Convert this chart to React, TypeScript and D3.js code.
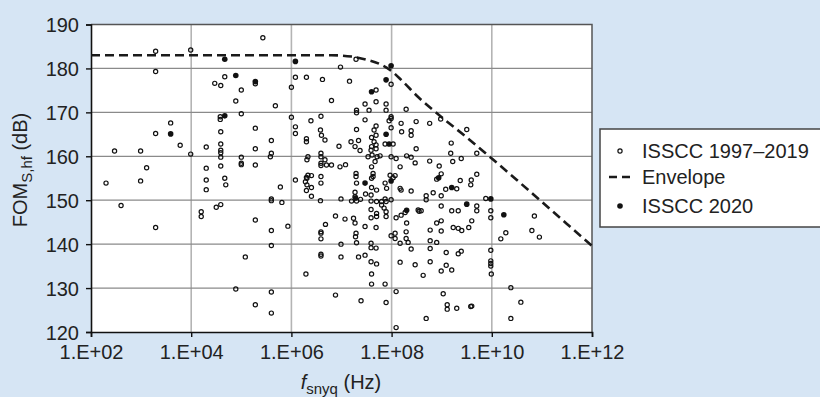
import React, { useEffect, useRef } from "react"
import * as d3 from "d3"

// values: [log10 of f_snyq in Hz, FOM_S,hf in dB]
const isscc1997to2019: [number, number][] = [
  [2.30, 153.9], [2.47, 161.2], [2.60, 148.8], [2.99, 161.2], [2.99, 154.4], [3.11, 157.4],
  [3.29, 183.9], [3.29, 179.3], [3.29, 165.2], [3.29, 143.8], [3.59, 167.6], [3.78, 162.5],
  [3.99, 184.2], [3.99, 160.5], [4.20, 147.4], [4.20, 146.3], [4.30, 162.1], [4.30, 157.3],
  [4.30, 154.6], [4.30, 152.4], [4.47, 176.6], [4.50, 148.4], [4.59, 176.1], [4.67, 178.1],
  [4.58, 169.0], [4.58, 168.4], [4.59, 165.6], [4.59, 162.8], [4.59, 161.4], [4.59, 160.8],
  [4.59, 159.8], [4.59, 157.8], [4.67, 155.0], [4.69, 153.5], [4.59, 149.0], [4.89, 172.6],
  [5.00, 175.1], [5.00, 169.7], [5.00, 159.8], [5.00, 158.4], [5.00, 158.1], [5.08, 137.1],
  [4.89, 129.8], [5.28, 166.4], [5.28, 161.7], [5.28, 158.0], [5.28, 145.5], [5.28, 126.2],
  [5.43, 187.0], [5.60, 163.6], [5.60, 160.7], [5.58, 159.9], [5.60, 150.3], [5.60, 149.9],
  [5.60, 143.1], [5.60, 139.7], [5.60, 129.1], [5.60, 124.3], [5.68, 171.5], [5.78, 153.0],
  [5.81, 149.5], [5.93, 144.1], [5.28, 176.5],
  [6.00, 175.7], [6.08, 178.0], [6.30, 178.0], [6.00, 168.9], [6.08, 166.7], [6.08, 165.2],
  [6.39, 168.1], [6.30, 164.0], [6.30, 163.3], [6.33, 159.9], [6.31, 159.2], [6.08, 154.6],
  [6.33, 155.7], [6.40, 155.6], [6.30, 155.2], [6.31, 155.0], [6.28, 154.2], [6.31, 153.5],
  [6.40, 152.9], [6.30, 152.2], [6.40, 150.9], [6.29, 133.2],
  [6.62, 177.5], [6.80, 172.7], [6.98, 180.3], [7.16, 177.1], [7.29, 182.1], [6.59, 169.1],
  [6.58, 166.0], [6.60, 164.8], [6.67, 163.7], [6.59, 160.7], [6.59, 159.9], [6.59, 158.4],
  [6.59, 157.9], [6.67, 159.2], [6.70, 158.0], [6.80, 158.0], [6.97, 157.6], [7.08, 158.1],
  [6.95, 162.3], [7.19, 163.3], [7.34, 163.6], [7.27, 162.2], [7.37, 161.3], [7.30, 170.5],
  [7.30, 169.9], [7.30, 166.1], [6.59, 155.4], [6.59, 153.9], [6.58, 149.9], [6.59, 142.8],
  [6.59, 142.5], [6.59, 141.2], [6.59, 137.7], [6.59, 137.3], [6.68, 144.5], [6.88, 146.4],
  [6.99, 150.3], [6.99, 140.0], [6.99, 137.1], [6.88, 128.4], [7.07, 145.7], [7.24, 145.9],
  [7.27, 144.8], [7.29, 142.5], [7.28, 141.7], [7.30, 140.3], [7.29, 156.1], [7.29, 155.4],
  [7.30, 153.9], [7.27, 151.8], [7.27, 150.8], [7.20, 149.8], [7.30, 149.8], [7.38, 150.2],
  [7.34, 137.1], [7.39, 127.1],
  [7.47, 171.9], [7.55, 170.5], [7.69, 175.1], [7.69, 172.4], [7.89, 171.9], [7.89, 170.5],
  [7.99, 176.4], [7.99, 169.0], [7.99, 168.6], [7.95, 168.1], [7.47, 168.3], [7.69, 166.9],
  [7.65, 166.0], [7.99, 166.5], [7.60, 164.3], [7.65, 163.3], [7.69, 164.8], [7.60, 162.2],
  [7.69, 162.6], [7.87, 162.8], [8.03, 162.8], [7.59, 161.4], [7.69, 161.7], [7.53, 159.9],
  [7.61, 160.3], [7.71, 159.9], [7.77, 160.1], [7.60, 157.6], [7.67, 158.8], [7.99, 159.9],
  [8.09, 159.5], [8.17, 157.6], [7.63, 156.1], [7.63, 155.4], [7.97, 155.7], [8.07, 155.6],
  [7.60, 155.0], [7.60, 152.9], [7.70, 152.3], [7.87, 153.9], [7.90, 152.7], [8.03, 155.1],
  [7.48, 151.4], [7.59, 151.2], [7.59, 149.8], [7.70, 149.7], [7.80, 149.7], [7.87, 150.3],
  [7.89, 149.7], [7.99, 150.1], [7.59, 147.9], [7.80, 148.9], [7.85, 148.2], [7.89, 147.4],
  [7.70, 147.0], [7.70, 146.3], [7.59, 146.0], [7.89, 146.3], [7.47, 144.0], [7.69, 143.8],
  [7.99, 141.9], [8.07, 142.5], [8.07, 141.3], [7.59, 140.2], [7.59, 139.2], [7.69, 139.1],
  [7.47, 137.5], [7.59, 136.0], [7.70, 135.5], [7.60, 133.2], [7.60, 130.9], [7.87, 130.9],
  [7.89, 126.7], [8.09, 129.2], [8.09, 121.0], [8.17, 140.2], [8.17, 135.9],
  [8.19, 167.5], [8.20, 165.6], [8.29, 170.7], [8.39, 165.8], [8.39, 164.8], [8.49, 167.9],
  [8.49, 161.7], [8.30, 160.1], [8.39, 159.8], [8.47, 158.5], [8.19, 152.3], [8.39, 152.1],
  [8.17, 152.7], [8.55, 147.5], [8.19, 146.6], [8.09, 146.0], [8.27, 147.2], [8.29, 142.8],
  [8.29, 141.3], [8.33, 140.4], [8.39, 138.9], [8.47, 135.3], [8.53, 147.8],
  [8.76, 167.5], [8.98, 168.5], [9.50, 166.1], [9.19, 163.0], [9.18, 160.7], [9.22, 158.8],
  [9.39, 159.5], [9.70, 160.7], [8.76, 158.9], [8.95, 157.8], [8.99, 156.0], [8.90, 154.8],
  [9.37, 154.5], [9.59, 154.6], [9.70, 155.9], [9.30, 152.6], [9.58, 153.5], [8.69, 151.0],
  [8.69, 150.1], [8.83, 151.7], [8.99, 151.0], [9.08, 152.5], [9.70, 148.7], [9.70, 147.6],
  [9.88, 150.4], [9.98, 147.6], [9.98, 146.0], [10.85, 146.4], [10.80, 143.1], [10.95, 141.6],
  [10.28, 142.6], [10.18, 141.2], [8.59, 147.6], [8.99, 148.7], [9.20, 147.6], [9.33, 147.6],
  [8.30, 144.8], [8.77, 143.2], [8.90, 144.8], [8.99, 145.3], [8.99, 143.0], [9.23, 143.8],
  [9.33, 143.6], [9.40, 143.1], [9.54, 143.8], [9.60, 145.3], [8.77, 140.8], [8.90, 140.4],
  [8.77, 139.0], [9.09, 138.1], [9.33, 137.8], [9.39, 138.4], [8.77, 136.0], [8.63, 132.9],
  [8.99, 133.9], [9.09, 135.2], [9.20, 134.1], [9.98, 138.6], [9.98, 136.2], [9.98, 135.6],
  [9.98, 135.0], [9.99, 133.2], [9.03, 128.7], [9.11, 126.2], [9.11, 125.2], [9.30, 125.4],
  [9.58, 125.8], [9.60, 125.9], [8.69, 123.1], [10.38, 130.1], [10.58, 126.8], [10.38, 123.1],
]

const isscc2020: [number, number][] = [
  [3.59, 165.1], [4.67, 182.1], [4.89, 178.4], [5.28, 177.0], [4.67, 169.2], [6.08, 181.6],
  [7.60, 174.7], [7.89, 177.4], [7.99, 180.6], [7.89, 165.0], [7.95, 162.8], [7.47, 153.9],
  [7.99, 154.4], [8.30, 147.7], [7.28, 150.5], [8.94, 155.1], [9.20, 152.9], [9.50, 149.1],
  [9.98, 150.3], [10.24, 146.7],
]

const envelope: [number, number][] = [
  [2, 183], [6.8, 183], [7.2, 182.7], [7.5, 182], [7.8, 180.8], [8.0, 179.4], [8.2, 177.3],
  [8.53, 173.5], [9.0, 168.9], [9.5, 164.3], [10.0, 159.5], [10.5, 154.6], [11.0, 149.6],
  [11.5, 144.6], [12, 139.6],
]

const xTicks = [1e2, 1e4, 1e6, 1e8, 1e10, 1e12]
const xTickLabels = ["1.E+02", "1.E+04", "1.E+06", "1.E+08", "1.E+10", "1.E+12"]
const yTicks = [120, 130, 140, 150, 160, 170, 180, 190]
const legendLabels = ["ISSCC 1997\u20132019", "Envelope", "ISSCC 2020"]

export default function App() {
  const ref = useRef<SVGSVGElement>(null)

  useEffect(() => {
    const width = 820
    const height = 397
    const m = { left: 91, right: 228, top: 24.5, bottom: 65 }
    const font = "'Liberation Sans', Arial, sans-serif"

    const svg = d3.select(ref.current)
    svg.selectAll("*").remove()
    svg.attr("width", width).attr("height", height)

    svg.append("rect").attr("width", width).attr("height", height).attr("fill", "#d6e5f4")

    const x = d3.scaleLog().domain([1e2, 1e12]).range([m.left, width - m.right])
    const y = d3.scaleLinear().domain([120, 190]).range([height - m.bottom, m.top])
    const [x0, x1] = x.range()
    const [y0, y1] = y.range()

    svg.append("rect")
      .attr("x", x0).attr("y", y1).attr("width", x1 - x0).attr("height", y0 - y1)
      .attr("fill", "#fff")

    // grid
    svg.append("g").selectAll("line")
      .data(xTicks.slice(1, -1))
      .join("line")
      .attr("x1", d => x(d)).attr("x2", d => x(d))
      .attr("y1", y1).attr("y2", y0)
      .attr("stroke", "#b4b4b4").attr("stroke-width", 1.6)
    svg.append("g").selectAll("line")
      .data(yTicks.slice(1, -1))
      .join("line")
      .attr("x1", x0).attr("x2", x1)
      .attr("y1", d => y(d)).attr("y2", d => y(d))
      .attr("stroke", "#8a8a8a").attr("stroke-width", 1.2)

    // frame: top and right grey
    svg.append("path")
      .attr("d", `M${x0},${y1}H${x1}V${y0}`)
      .attr("fill", "none").attr("stroke", "#555").attr("stroke-width", 1.5)

    // axes
    const xAxis = svg.append("g")
      .attr("transform", `translate(0,${y0})`)
      .call(d3.axisBottom(x).tickValues(xTicks).tickSize(5).tickPadding(8)
        .tickFormat((d, i) => xTickLabels[i]))
    const yAxis = svg.append("g")
      .attr("transform", `translate(${x0},0)`)
      .call(d3.axisLeft(y).tickValues(yTicks).tickSize(5).tickPadding(7))
    for (const a of [xAxis, yAxis]) {
      a.select(".domain").attr("stroke", "#111").attr("stroke-width", 1.6)
      a.selectAll(".tick line").attr("stroke", "#111").attr("stroke-width", 1.4)
      a.selectAll(".tick text").attr("fill", "#222").style("font-family", font).style("font-size", "20px")
    }
    yAxis.selectAll(".tick text").attr("dy", "0.36em")

    // envelope
    const line = d3.line<[number, number]>()
      .x(d => x(10 ** d[0]))
      .y(d => y(d[1]))
      .curve(d3.curveMonotoneX)
    svg.append("path")
      .datum(envelope)
      .attr("d", line)
      .attr("fill", "none").attr("stroke", "#1a1a1a")
      .attr("stroke-width", 2.6).attr("stroke-dasharray", "9,5")

    // points
    svg.append("g").selectAll("circle")
      .data(isscc1997to2019)
      .join("circle")
      .attr("cx", d => x(10 ** d[0])).attr("cy", d => y(d[1]))
      .attr("r", 2.1)
      .attr("fill", "none").attr("stroke", "#111").attr("stroke-width", 1.2)
    svg.append("g").selectAll("circle")
      .data(isscc2020)
      .join("circle")
      .attr("cx", d => x(10 ** d[0])).attr("cy", d => y(d[1]))
      .attr("r", 2.8)
      .attr("fill", "#111")

    // axis titles
    const xt = svg.append("text")
      .attr("x", 341).attr("y", 389)
      .attr("text-anchor", "middle")
      .style("font-family", font).style("font-size", "20px").attr("fill", "#222")
    xt.append("tspan").text("f").style("font-style", "italic")
    xt.append("tspan").text("snyq").attr("dy", 5).style("font-size", "15px")
    xt.append("tspan").text(" (Hz)").attr("dy", -5)

    const yt = svg.append("text")
      .attr("transform", "translate(27,170) rotate(-90)")
      .attr("text-anchor", "middle")
      .style("font-family", font).style("font-size", "20px").attr("fill", "#222")
    yt.append("tspan").text("FOM")
    yt.append("tspan").text("S,hf").attr("dy", 5).style("font-size", "15px")
    yt.append("tspan").text(" (dB)").attr("dy", -5)

    // legend
    const lg = svg.append("g").attr("transform", "translate(600,129)")
    lg.append("rect")
      .attr("width", 224).attr("height", 98)
      .attr("fill", "#fff").attr("stroke", "#444").attr("stroke-width", 1.5)
    const rows = [22, 48, 77]
    lg.append("circle").attr("cx", 20).attr("cy", rows[0]).attr("r", 2.1)
      .attr("fill", "none").attr("stroke", "#111").attr("stroke-width", 1.2)
    lg.append("line").attr("x1", 9).attr("x2", 31).attr("y1", rows[1]).attr("y2", rows[1])
      .attr("stroke", "#1a1a1a").attr("stroke-width", 2.6).attr("stroke-dasharray", "8,5")
    lg.append("circle").attr("cx", 20).attr("cy", rows[2]).attr("r", 2.8).attr("fill", "#111")
    lg.selectAll("text.lab")
      .data(legendLabels)
      .join("text")
      .attr("class", "lab")
      .attr("x", 42).attr("y", (d, i) => rows[i] + 7)
      .text(d => d)
      .style("font-family", font).style("font-size", "20px").attr("fill", "#222")
  }, [])

  return <svg ref={ref} style={{ position: "absolute", left: 0, top: 0 }}></svg>
}
